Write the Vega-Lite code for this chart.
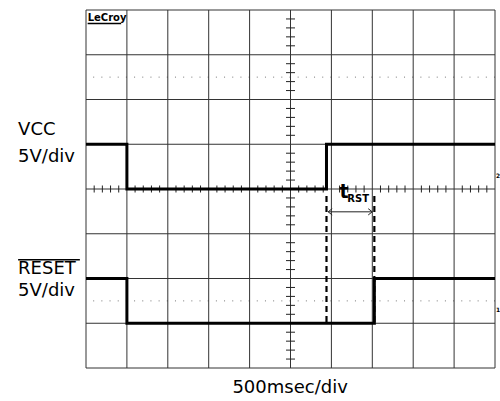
{
  "$schema": "https://vega.github.io/schema/vega-lite/v6.json",
  "width": 409,
  "height": 358,
  "autosize": "none",
  "padding": {"left": 86, "top": 10, "right": 5, "bottom": 33},
  "background": "white",
  "config": {"view": {"stroke": null}, "text": {"font": "DejaVu Sans"}},
  "datasets": {
    "grid_v": [{"x":0},{"x":1},{"x":2},{"x":3},{"x":4},{"x":5},{"x":6},{"x":7},{"x":8},{"x":9},{"x":10}],
    "grid_h": [{"y":0},{"y":1},{"y":2},{"y":3},{"y":4},{"y":5},{"y":6},{"y":7},{"y":8}],
    "dots": [{"y":6.5},{"y":1.5}],
    "ticks_h": [
      {"x":0.2,"y":4},{"x":0.4,"y":4},{"x":0.6,"y":4},{"x":0.8,"y":4},
      {"x":1.2,"y":4},{"x":1.4,"y":4},{"x":1.6,"y":4},{"x":1.8,"y":4},
      {"x":2.2,"y":4},{"x":2.4,"y":4},{"x":2.6,"y":4},{"x":2.8,"y":4},
      {"x":3.2,"y":4},{"x":3.4,"y":4},{"x":3.6,"y":4},{"x":3.8,"y":4},
      {"x":4.2,"y":4},{"x":4.4,"y":4},{"x":4.6,"y":4},{"x":4.8,"y":4},
      {"x":5.2,"y":4},{"x":5.4,"y":4},{"x":5.6,"y":4},{"x":5.8,"y":4},
      {"x":6.2,"y":4},{"x":6.4,"y":4},{"x":6.6,"y":4},{"x":6.8,"y":4},
      {"x":7.2,"y":4},{"x":7.4,"y":4},{"x":7.6,"y":4},{"x":7.8,"y":4},
      {"x":8.2,"y":4},{"x":8.4,"y":4},{"x":8.6,"y":4},{"x":8.8,"y":4},
      {"x":9.2,"y":4},{"x":9.4,"y":4},{"x":9.6,"y":4},{"x":9.8,"y":4}
    ],
    "ticks_v": [
      {"x":5,"y":0.2},{"x":5,"y":0.4},{"x":5,"y":0.6},{"x":5,"y":0.8},
      {"x":5,"y":1.2},{"x":5,"y":1.4},{"x":5,"y":1.6},{"x":5,"y":1.8},
      {"x":5,"y":2.2},{"x":5,"y":2.4},{"x":5,"y":2.6},{"x":5,"y":2.8},
      {"x":5,"y":3.2},{"x":5,"y":3.4},{"x":5,"y":3.6},{"x":5,"y":3.8},
      {"x":5,"y":4.2},{"x":5,"y":4.4},{"x":5,"y":4.6},{"x":5,"y":4.8},
      {"x":5,"y":5.2},{"x":5,"y":5.4},{"x":5,"y":5.6},{"x":5,"y":5.8},
      {"x":5,"y":6.2},{"x":5,"y":6.4},{"x":5,"y":6.6},{"x":5,"y":6.8},
      {"x":5,"y":7.2},{"x":5,"y":7.4},{"x":5,"y":7.6},{"x":5,"y":7.8}
    ],
    "traces": [
      {"signal":"VCC","order":1,"x":0,"y":5},
      {"signal":"VCC","order":2,"x":1,"y":5},
      {"signal":"VCC","order":3,"x":1,"y":4},
      {"signal":"VCC","order":4,"x":5.88,"y":4},
      {"signal":"VCC","order":5,"x":5.88,"y":5},
      {"signal":"VCC","order":6,"x":10,"y":5},
      {"signal":"RESET","order":1,"x":0,"y":2},
      {"signal":"RESET","order":2,"x":1,"y":2},
      {"signal":"RESET","order":3,"x":1,"y":1},
      {"signal":"RESET","order":4,"x":7.05,"y":1},
      {"signal":"RESET","order":5,"x":7.05,"y":2},
      {"signal":"RESET","order":6,"x":10,"y":2}
    ],
    "dashed": [
      {"id":"a","x":5.88,"y":1.03},{"id":"a","x":5.88,"y":3.87},
      {"id":"b","x":7.05,"y":1.03},{"id":"b","x":7.05,"y":3.87}
    ],
    "arrow": [
      {"part":"shaft","order":1,"x":5.92,"y":3.49},
      {"part":"shaft","order":2,"x":7.0,"y":3.49},
      {"part":"left","order":1,"x":6.02,"y":3.56},
      {"part":"left","order":2,"x":5.92,"y":3.49},
      {"part":"left","order":3,"x":6.02,"y":3.42},
      {"part":"right","order":1,"x":6.9,"y":3.56},
      {"part":"right","order":2,"x":7.0,"y":3.49},
      {"part":"right","order":3,"x":6.9,"y":3.42}
    ],
    "labels_left": [
      {"text":"VCC","x":-1.66,"y":5.32},
      {"text":"5V/div","x":-1.66,"y":4.72},
      {"text":"RESET","x":-1.66,"y":2.21},
      {"text":"5V/div","x":-1.66,"y":1.72}
    ],
    "overline": [{"x":-1.66,"x2":-0.15,"y":2.42}],
    "label_bottom": [{"text":"500msec/div","x":4.99,"y":-0.45}],
    "logo": [{"text":"LeCroy","x":0.04,"y":7.82}],
    "logo_line": [{"x":0.04,"x2":0.86,"y":7.7}],
    "t_main": [{"text":"t","x":6.31,"y":3.8}],
    "t_sub": [{"text":"RST","x":6.39,"y":3.71}],
    "markers": [{"text":"2","x":10.0,"y":4.28},{"text":"1","x":10.0,"y":1.3}]
  },
  "layer": [
    {
      "data": {"name": "dots"},
      "mark": {"type": "rule", "color": "#777777", "strokeWidth": 1, "strokeDash": [1, 7.18]},
      "encoding": {"y": {"field": "y", "type": "quantitative", "scale": {"domain": [0, 8], "nice": false, "zero": false}, "axis": null}}
    },
    {
      "data": {"name": "grid_v"},
      "mark": {"type": "rule", "color": "#333333", "strokeWidth": 1},
      "encoding": {"x": {"field": "x", "type": "quantitative", "scale": {"domain": [0, 10], "nice": false, "zero": false}, "axis": null}}
    },
    {
      "data": {"name": "grid_h"},
      "mark": {"type": "rule", "color": "#333333", "strokeWidth": 1},
      "encoding": {"y": {"field": "y", "type": "quantitative", "scale": {"domain": [0, 8], "nice": false, "zero": false}, "axis": null}}
    },
    {
      "data": {"name": "ticks_h"},
      "mark": {"type": "tick", "orient": "vertical", "size": 7, "thickness": 1, "color": "#222222", "opacity": 1},
      "encoding": {
        "x": {"field": "x", "type": "quantitative", "scale": {"domain": [0, 10], "nice": false, "zero": false}, "axis": null},
        "y": {"field": "y", "type": "quantitative", "scale": {"domain": [0, 8], "nice": false, "zero": false}, "axis": null}
      }
    },
    {
      "data": {"name": "ticks_v"},
      "mark": {"type": "tick", "orient": "horizontal", "size": 9, "thickness": 1, "color": "#222222", "opacity": 1},
      "encoding": {
        "x": {"field": "x", "type": "quantitative", "scale": {"domain": [0, 10], "nice": false, "zero": false}, "axis": null},
        "y": {"field": "y", "type": "quantitative", "scale": {"domain": [0, 8], "nice": false, "zero": false}, "axis": null}
      }
    },
    {
      "data": {"name": "dashed"},
      "mark": {"type": "line", "color": "black", "strokeWidth": 2.2, "strokeDash": [6, 4]},
      "encoding": {
        "x": {"field": "x", "type": "quantitative", "scale": {"domain": [0, 10], "nice": false, "zero": false}, "axis": null},
        "y": {"field": "y", "type": "quantitative", "scale": {"domain": [0, 8], "nice": false, "zero": false}, "axis": null},
        "detail": {"field": "id"},
        "order": {"field": "y"}
      }
    },
    {
      "data": {"name": "traces"},
      "mark": {"type": "line", "color": "black", "strokeWidth": 3, "strokeJoin": "miter", "strokeCap": "butt"},
      "encoding": {
        "x": {"field": "x", "type": "quantitative", "scale": {"domain": [0, 10], "nice": false, "zero": false}, "axis": null},
        "y": {"field": "y", "type": "quantitative", "scale": {"domain": [0, 8], "nice": false, "zero": false}, "axis": null},
        "detail": {"field": "signal"},
        "order": {"field": "order"}
      }
    },
    {
      "data": {"name": "arrow"},
      "mark": {"type": "line", "color": "#222222", "strokeWidth": 1},
      "encoding": {
        "x": {"field": "x", "type": "quantitative", "scale": {"domain": [0, 10], "nice": false, "zero": false}, "axis": null},
        "y": {"field": "y", "type": "quantitative", "scale": {"domain": [0, 8], "nice": false, "zero": false}, "axis": null},
        "detail": {"field": "part"},
        "order": {"field": "order"}
      }
    },
    {
      "data": {"name": "labels_left"},
      "mark": {"type": "text", "align": "left", "baseline": "middle", "fontSize": 18, "color": "black"},
      "encoding": {
        "x": {"field": "x", "type": "quantitative", "scale": {"domain": [0, 10], "nice": false, "zero": false}, "axis": null},
        "y": {"field": "y", "type": "quantitative", "scale": {"domain": [0, 8], "nice": false, "zero": false}, "axis": null},
        "text": {"field": "text"}
      }
    },
    {
      "data": {"name": "overline"},
      "mark": {"type": "rule", "color": "black", "strokeWidth": 1.5},
      "encoding": {
        "x": {"field": "x", "type": "quantitative", "scale": {"domain": [0, 10], "nice": false, "zero": false}, "axis": null},
        "x2": {"field": "x2"},
        "y": {"field": "y", "type": "quantitative", "scale": {"domain": [0, 8], "nice": false, "zero": false}, "axis": null}
      }
    },
    {
      "data": {"name": "label_bottom"},
      "mark": {"type": "text", "align": "center", "baseline": "middle", "fontSize": 18, "color": "black"},
      "encoding": {
        "x": {"field": "x", "type": "quantitative", "scale": {"domain": [0, 10], "nice": false, "zero": false}, "axis": null},
        "y": {"field": "y", "type": "quantitative", "scale": {"domain": [0, 8], "nice": false, "zero": false}, "axis": null},
        "text": {"field": "text"}
      }
    },
    {
      "data": {"name": "logo"},
      "mark": {"type": "text", "align": "left", "baseline": "middle", "fontSize": 10, "fontWeight": "bold", "color": "black"},
      "encoding": {
        "x": {"field": "x", "type": "quantitative", "scale": {"domain": [0, 10], "nice": false, "zero": false}, "axis": null},
        "y": {"field": "y", "type": "quantitative", "scale": {"domain": [0, 8], "nice": false, "zero": false}, "axis": null},
        "text": {"field": "text"}
      }
    },
    {
      "data": {"name": "logo_line"},
      "mark": {"type": "rule", "color": "black", "strokeWidth": 1.5},
      "encoding": {
        "x": {"field": "x", "type": "quantitative", "scale": {"domain": [0, 10], "nice": false, "zero": false}, "axis": null},
        "x2": {"field": "x2"},
        "y": {"field": "y", "type": "quantitative", "scale": {"domain": [0, 8], "nice": false, "zero": false}, "axis": null}
      }
    },
    {
      "data": {"name": "t_main"},
      "mark": {"type": "text", "align": "center", "baseline": "alphabetic", "fontSize": 19, "fontWeight": "bold", "color": "black"},
      "encoding": {
        "x": {"field": "x", "type": "quantitative", "scale": {"domain": [0, 10], "nice": false, "zero": false}, "axis": null},
        "y": {"field": "y", "type": "quantitative", "scale": {"domain": [0, 8], "nice": false, "zero": false}, "axis": null},
        "text": {"field": "text"}
      }
    },
    {
      "data": {"name": "t_sub"},
      "mark": {"type": "text", "align": "left", "baseline": "alphabetic", "fontSize": 10, "fontWeight": "bold", "color": "black"},
      "encoding": {
        "x": {"field": "x", "type": "quantitative", "scale": {"domain": [0, 10], "nice": false, "zero": false}, "axis": null},
        "y": {"field": "y", "type": "quantitative", "scale": {"domain": [0, 8], "nice": false, "zero": false}, "axis": null},
        "text": {"field": "text"}
      }
    },
    {
      "data": {"name": "markers"},
      "mark": {"type": "text", "align": "left", "baseline": "middle", "fontSize": 6, "fontWeight": "bold", "color": "black", "dx": 1},
      "encoding": {
        "x": {"field": "x", "type": "quantitative", "scale": {"domain": [0, 10], "nice": false, "zero": false}, "axis": null},
        "y": {"field": "y", "type": "quantitative", "scale": {"domain": [0, 8], "nice": false, "zero": false}, "axis": null},
        "text": {"field": "text"}
      }
    }
  ]
}
